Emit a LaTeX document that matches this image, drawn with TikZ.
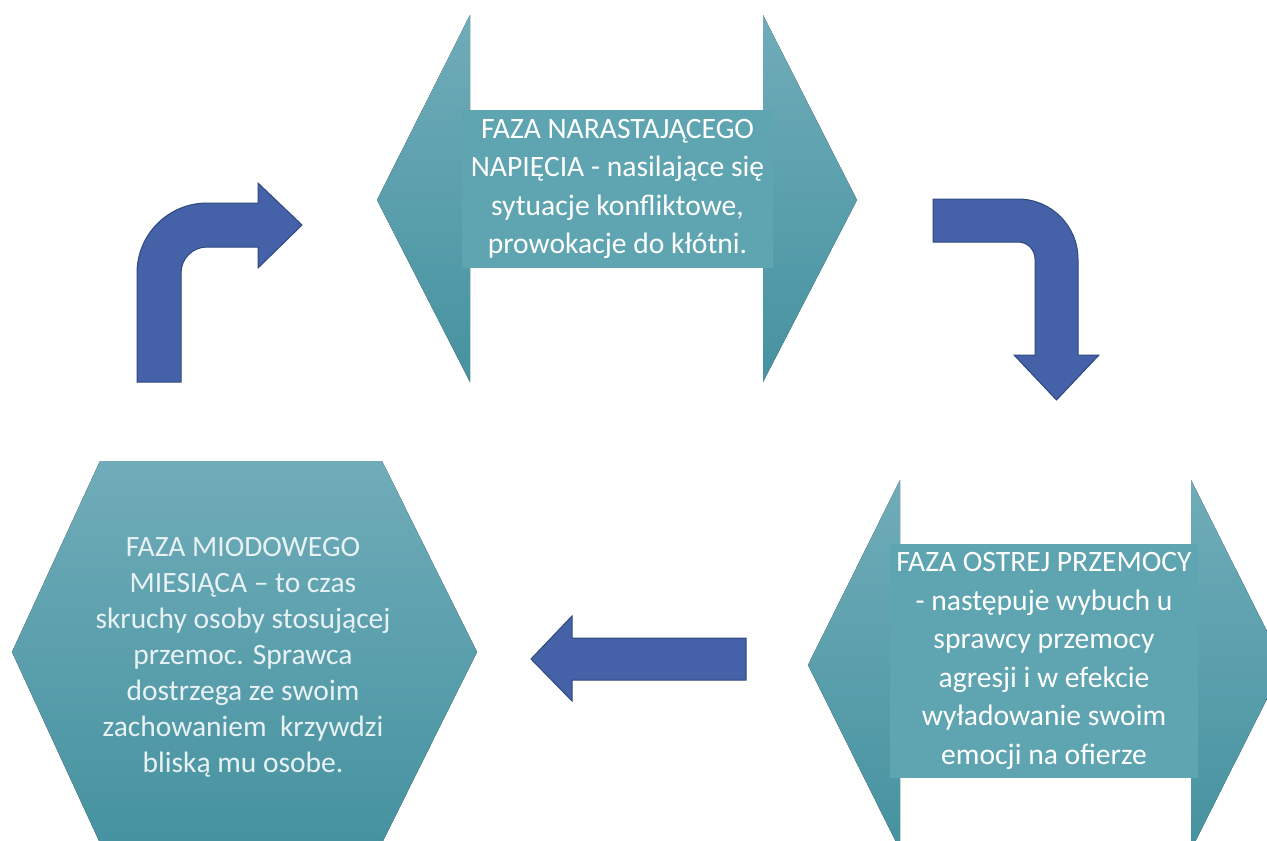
\documentclass[tikz,border=0pt]{standalone}
\usepackage{fontspec}
\setmainfont{Carlito}
\definecolor{tealtop}{RGB}{112,172,185}
\definecolor{tealbot}{RGB}{70,146,160}
\definecolor{tealbox}{RGB}{94,164,177}
\definecolor{arrowfill}{RGB}{69,98,168}
\definecolor{arrowline}{RGB}{47,72,130}
\definecolor{softwhite}{RGB}{232,242,244}
\begin{document}
\begin{tikzpicture}[x=1pt,y=-1pt,
    hexpart/.style={top color=tealtop,bottom color=tealbot,draw=none},
    boxtext/.style={fill=tealbox,text=white,align=center,inner sep=0pt,
        font=\fontsize{29.6}{38.5}\selectfont},
    blockarrow/.style={fill=arrowfill,draw=arrowline,line width=1pt,line join=miter}]
    \clip (0,0) rectangle (1267,841);
    \fill[white] (0,0) rectangle (1267,841);

    \fill[hexpart] (377,200) -- (470,15) -- (470,382) -- cycle;
    \fill[hexpart] (763,15) -- (857,200) -- (763,382) -- cycle;
    \node[boxtext,minimum width=311pt,minimum height=158pt] (napiecie) at (617.5,189)
        {FAZA NARASTAJĄCEGO\\NAPIĘCIA - nasilające się\\sytuacje konfliktowe,\\prowokacje do kłótni.};

    \fill[hexpart] (808,665) -- (900,480) -- (900,850) -- cycle;
    \fill[hexpart] (1191,480) -- (1284,665) -- (1191,850) -- cycle;
    \node[boxtext,minimum width=308pt,minimum height=234pt] (przemoc) at (1044,661)
        {FAZA OSTREJ PRZEMOCY\\- następuje wybuch u\\sprawcy przemocy\\agresji i w efekcie\\wyładowanie swoim\\emocji na ofierze};

    \fill[hexpart] (12,652) -- (100,461) -- (382,461) -- (477,652) -- (382,843) -- (100,843) -- cycle;
    \node[text=softwhite,align=center,font=\fontsize{29.5}{36}\selectfont] (miesiac) at (243,657)
        {FAZA MIODOWEGO\\MIESIĄCA – to czas\\skruchy osoby stosującej\\przemoc. Sprawca\\dostrzega ze swoim\\zachowaniem~ krzywdzi\\bliską mu osobe.};

    \draw[blockarrow] (137,382) -- (137,273) .. controls (137,234.4) and (168.4,203) .. (207,203)
        -- (258,203) -- (258,183) -- (302,225) -- (258,268) -- (258,247) -- (207,247)
        .. controls (192.6,247) and (181,258.6) .. (181,273) -- (181,382) -- cycle;
    \draw[blockarrow] (933,199) -- (1018,199) .. controls (1051.1,199) and (1078,225.9) .. (1078,259)
        -- (1078,355) -- (1099,355) -- (1056.5,400) -- (1014,355) -- (1035,355) -- (1035,259)
        .. controls (1035,249.6) and (1027.4,242) .. (1018,242) -- (933,242) -- cycle;
    \draw[blockarrow] (746,638) -- (572,638) -- (572,616) -- (531,659) -- (572,701) -- (572,680) -- (746,680) -- cycle;
\end{tikzpicture}
\end{document}
